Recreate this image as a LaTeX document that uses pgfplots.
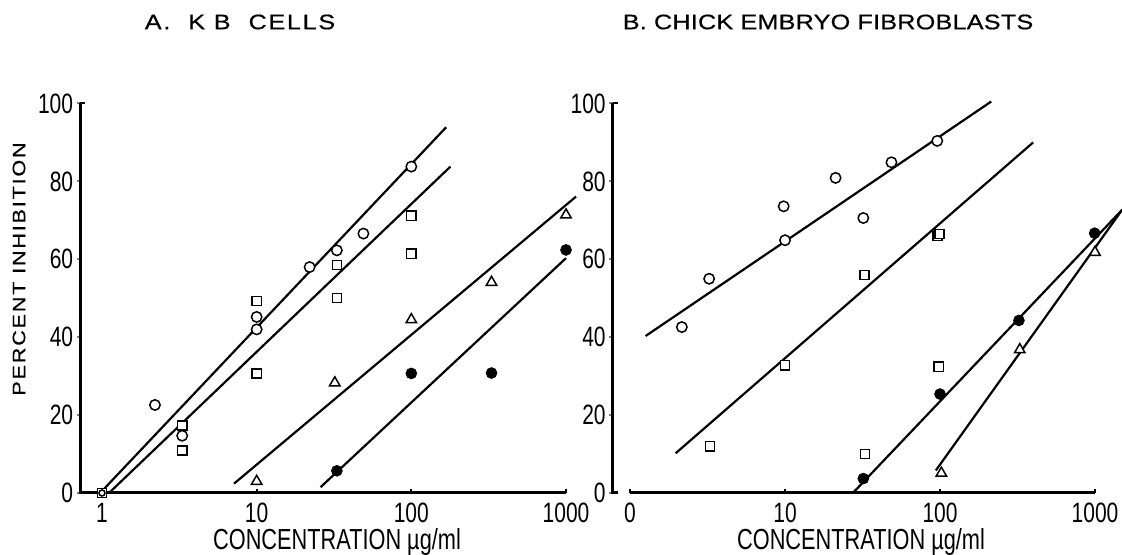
\documentclass[border=0pt]{standalone}
\usepackage{fontspec}
\setmainfont{Liberation Sans}
\newfontfamily\cond{Liberation Sans}[FakeStretch=0.75]
\newfontfamily\wide{Liberation Sans}[FakeStretch=1.2, FakeBold=0.6]
\usepackage{pgfplots}
\pgfplotsset{compat=1.18}

\pgfplotsset{
  fitline/.style={line width=1.1pt},
  opencirc/.style={only marks, mark=*, mark size=2.6pt, mark options={fill=white, draw=black, line width=0.75pt}},
  opensq/.style={only marks, mark=square*, mark size=2.3pt, mark options={fill=white, draw=black, line width=0.75pt}},
  opentri/.style={only marks, mark=triangle*, mark size=3pt, mark options={fill=white, draw=black, line width=0.75pt}},
  filled/.style={only marks, mark=*, mark size=2.7pt, mark options={fill=black, draw=black}},
}

\begin{document}
\begin{tikzpicture}
\useasboundingbox (0,0) rectangle (561pt,277.5pt);

% A. KB cells
\begin{axis}[scale only axis, xmode=log, xmax=1000,
    ymin=0, ymax=100, height=194.75pt, clip=false,
    axis line style={draw=none},
    xtick={1,10,100,1000}, ytick={0,20,40,60,80,100},
    yticklabels={0,20,40,60,80,100},
    xtick pos=bottom, ytick pos=left, xminorticks=false,
    tick align=outside, major tick length=1.75pt,
    xtick style={draw=none},
    ytick style={line width=1pt},
    ticklabel style={font=\cond\fontsize{14pt}{14pt}\selectfont},
    yticklabel style={inner sep=1.5pt},
    xticklabel style={inner sep=0pt, yshift=-3pt},
    at={(40pt,31pt)}, anchor=south west,
    width=243pt, xmin=0.7209, xticklabels={1,10,100,1000}]
\addplot[fitline] coordinates {(1.0,0.5) (168,93.9)};
\addplot[fitline] coordinates {(1.11,0) (179,83.8)};
\addplot[fitline] coordinates {(7.14,2.4) (1161,76.1)};
\addplot[fitline] coordinates {(25.9,1.5) (1000,60.3)};
\addplot[opencirc] coordinates {(2.2,22.6) (3.3,14.7) (10,45.2) (10,42.0) (22,58.0) (33,62.3) (49,66.6) (100,83.8)};
\addplot[opensq] coordinates {(1,0) (3.3,17.3) (3.3,10.9) (10,49.3) (10,30.7) (33,58.5) (33,50.1) (100,71.2) (100,61.4)};
\addplot[opencirc, mark size=1.5pt] coordinates {(1,0)};
\addplot[opentri] coordinates {(10,3.0) (32,28.3) (100,44.5) (330,54.1) (1000,71.4)};
\addplot[filled] coordinates {(33,5.7) (100,30.7) (330,30.8) (1000,62.4)};
\draw[line width=1.5pt, line join=miter] (axis cs:0.7209,100) -- (axis cs:0.7209,0) -- (axis cs:1000,0);
\draw[line width=1pt] (axis cs:0.7209,100) -- ++(2.5pt,0pt);
\draw[line width=1pt] (axis cs:10,0) -- ++(0pt,2.2pt);
\draw[line width=1pt] (axis cs:100,0) -- ++(0pt,2.2pt);
\draw[line width=1pt] (axis cs:1000,0) -- ++(0pt,2.2pt);
\end{axis}

% B. Chick embryo fibroblasts
\begin{axis}[scale only axis, xmode=log, xmax=1000,
    ymin=0, ymax=100, height=194.75pt, clip=false,
    axis line style={draw=none},
    xtick={1,10,100,1000}, ytick={0,20,40,60,80,100},
    yticklabels={0,20,40,60,80,100},
    xtick pos=bottom, ytick pos=left, xminorticks=false,
    tick align=outside, major tick length=1.75pt,
    xtick style={draw=none},
    ytick style={line width=1pt},
    ticklabel style={font=\cond\fontsize{14pt}{14pt}\selectfont},
    yticklabel style={inner sep=1.5pt},
    xticklabel style={inner sep=0pt, yshift=-3pt},
    at={(306.25pt,31pt)}, anchor=south west,
    width=241.25pt, xmin=0.771, xticklabels={0,10,100,1000}]
\addplot[fitline] coordinates {(1.26,40.3) (214,100.5)};
\addplot[fitline] coordinates {(1.97,10.2) (399,90.0)};
\addplot[fitline] coordinates {(27.4,0) (1496,72.7)};
\addplot[fitline] coordinates {(94,5.8) (1496,72.7)};
\addplot[opencirc] coordinates {(2.16,42.6) (3.24,55.0) (9.8,73.6) (10,64.9) (21.2,80.9) (32,70.6) (48.6,84.9) (96,90.4)};
\addplot[opensq] coordinates {(3.28,12.0) (10,32.8) (32.5,56.0) (32.8,10.0) (98,32.4) (96.5,66.0) (99.3,66.5)};
\addplot[opentri] coordinates {(102,5.1) (327,36.8) (1000,61.8)};
\addplot[filled] coordinates {(32,3.7) (100,25.4) (323,44.3) (995,66.7)};
\draw[line width=1.5pt, line join=miter] (axis cs:0.771,100) -- (axis cs:0.771,0) -- ++(2.5pt,0pt);
\draw[line width=1pt] (axis cs:0.771,100) -- ++(2.5pt,0pt);
\draw[line width=1.5pt] (axis cs:1,0) -- (axis cs:1000,0);
\draw[line width=1pt] (axis cs:1,0) -- ++(0pt,2.2pt);
\draw[line width=1pt] (axis cs:10,0) -- ++(0pt,2.2pt);
\draw[line width=1pt] (axis cs:100,0) -- ++(0pt,2.2pt);
\draw[line width=1pt] (axis cs:1000,0) -- ++(0pt,2.2pt);
\end{axis}

% titles and labels
\node[font=\wide\fontsize{10.5pt}{12pt}\selectfont] at (120pt,266.5pt)
  {\addfontfeature{LetterSpace=8}A.\hspace{9pt}K B\hspace{9pt}CELLS};
\node[font=\wide\fontsize{10.5pt}{12pt}\selectfont] at (414pt,266.5pt)
  {\addfontfeature{LetterSpace=1}B. CHICK EMBRYO FIBROBLASTS};
\node[rotate=90, font=\wide\fontsize{9pt}{10pt}\selectfont] at (9.5pt,143pt)
  {\addfontfeature{LetterSpace=10}PERCENT INHIBITION};
\node[anchor=base, font=\cond\fontsize{14.5pt}{15pt}\selectfont] at (168.5pt,2.5pt) {CONCENTRATION µg/ml};
\node[anchor=base, font=\cond\fontsize{14.5pt}{15pt}\selectfont] at (430.5pt,2.5pt) {CONCENTRATION µg/ml};
\end{tikzpicture}
\end{document}
